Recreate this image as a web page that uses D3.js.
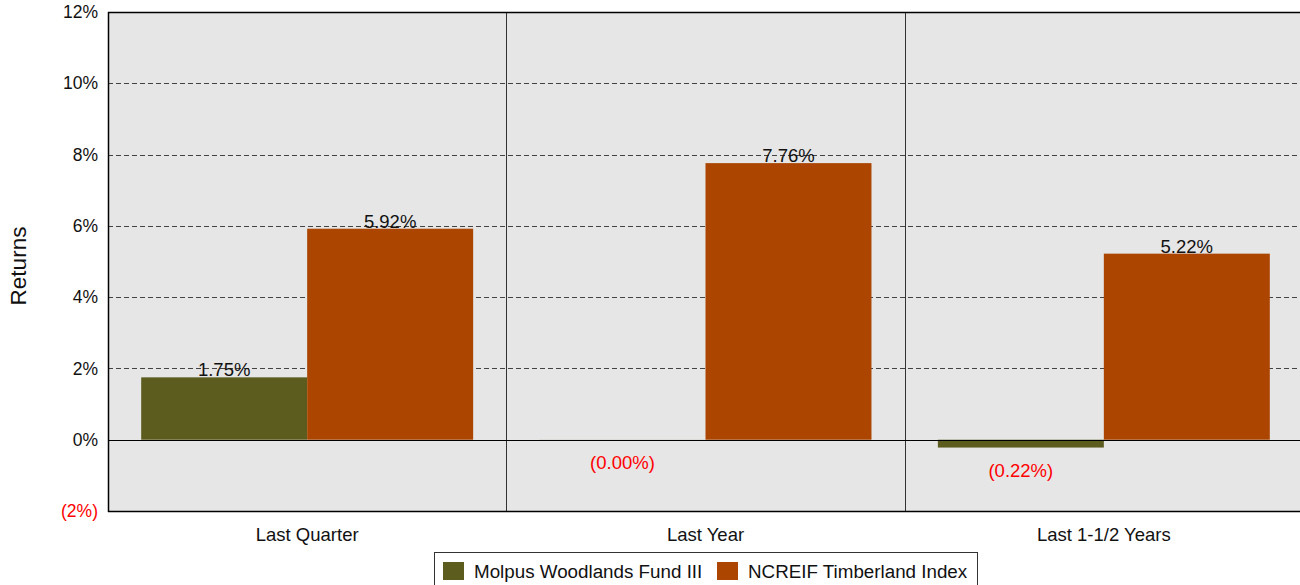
<!DOCTYPE html>
<html><head><meta charset="utf-8">
<script src="https://cdn.jsdelivr.net/npm/d3@7"></script>
<style>body{margin:0;background:#fff;} svg{display:block;font-family:Arial,"Liberation Sans",sans-serif;}</style>
</head><body>
<svg id="c" width="1300" height="585"></svg>
<script>
const categories = ["Last Quarter", "Last Year", "Last 1-1/2 Years"];
const seriesNames = ["Molpus Woodlands Fund III", "NCREIF Timberland Index"];
const molpusValues = [1.75, -0.002, -0.22];
const ncreifValues = [5.92, 7.76, 5.22];
const yTicks = [-2, 0, 2, 4, 6, 8, 10, 12];
const colors = ["#5c5c1f", "#ab4500"];

const svg = d3.select("#c");
const L = 108, R = 1303, T = 12, B = 511;
const y = d3.scaleLinear().domain([-2, 12]).range([B, T]);
const x0 = d3.scaleBand().domain(categories).range([L, R]).padding(0);
const x1 = d3.scaleBand().domain(seriesNames).range([0, x0.bandwidth()]).paddingInner(0).paddingOuter(0.2);
const color = d3.scaleOrdinal().domain(seriesNames).range(colors);
const fmt = v => v < 0 ? "(" + Math.abs(v).toFixed(2) + "%)" : v.toFixed(2) + "%";

svg.append("rect").attr("x", L).attr("y", T).attr("width", R - L).attr("height", B - T).attr("fill", "#e6e6e6");

// gridlines
svg.append("g").selectAll("line").data(yTicks.filter(t => t > 0 && t < 12)).join("line")
  .attr("x1", L).attr("x2", R).attr("y1", d => Math.round(y(d)) + 0.5).attr("y2", d => Math.round(y(d)) + 0.5)
  .attr("stroke", "#444").attr("stroke-dasharray", "5,3").attr("stroke-width", 1);

// category separators
svg.append("g").selectAll("line").data(categories.slice(1)).join("line")
  .attr("x1", d => Math.round(x0(d)) + 0.5).attr("x2", d => Math.round(x0(d)) + 0.5)
  .attr("y1", T).attr("y2", B).attr("stroke", "#333").attr("stroke-width", 1);

const data = categories.map((c, i) => ({cat: c, vals: [
  {s: seriesNames[0], v: molpusValues[i]}, {s: seriesNames[1], v: ncreifValues[i]}]}));

const groups = svg.append("g").selectAll("g").data(data).join("g")
  .attr("transform", d => `translate(${x0(d.cat)},0)`);
groups.selectAll("rect").data(d => d.vals).join("rect")
  .attr("x", d => x1(d.s)).attr("width", x1.bandwidth())
  .attr("y", d => y(Math.max(0, d.v))).attr("height", d => Math.abs(y(d.v) - y(0)))
  .attr("fill", d => color(d.s));

// zero line
svg.append("line").attr("x1", L).attr("x2", R).attr("y1", Math.round(y(0)) + 0.5).attr("y2", Math.round(y(0)) + 0.5)
  .attr("stroke", "#000").attr("stroke-width", 1.2);

// value labels
groups.selectAll("text").data(d => d.vals).join("text")
  .attr("x", d => x1(d.s) + x1.bandwidth() / 2)
  .attr("y", d => d.v >= 0 ? y(d.v) - 1 : y(d.v) + 29)
  .attr("text-anchor", "middle").attr("font-size", "18.5px")
  .attr("fill", d => d.v < 0 ? "#ff0000" : "#111")
  .text(d => fmt(d.v));

// axes frame
svg.append("line").attr("x1", L + 0.5).attr("x2", L + 0.5).attr("y1", T).attr("y2", B + 1).attr("stroke", "#000").attr("stroke-width", 1.5);
svg.append("line").attr("x1", L).attr("x2", R).attr("y1", T + 0.5).attr("y2", T + 0.5).attr("stroke", "#000").attr("stroke-width", 1.5);
svg.append("line").attr("x1", L).attr("x2", R).attr("y1", B + 0.5).attr("y2", B + 0.5).attr("stroke", "#000").attr("stroke-width", 1.5);

// y tick labels
const yAxis = d3.axisLeft(y).tickValues(yTicks).tickSize(0).tickPadding(10)
  .tickFormat(d => d < 0 ? "(" + Math.abs(d) + "%)" : d + "%");
const ga = svg.append("g").attr("transform", `translate(${L},0)`).call(yAxis);
ga.select(".domain").remove();
ga.selectAll("text").attr("font-size", "17.5px").attr("font-family", "Arial,'Liberation Sans',sans-serif")
  .attr("fill", d => d < 0 ? "#ff0000" : "#111");

// x category labels
const xAxis = d3.axisBottom(x0).tickSize(0).tickPadding(17);
const gx = svg.append("g").attr("transform", `translate(0,${B})`).call(xAxis);
gx.select(".domain").remove();
gx.selectAll("text").attr("font-size", "18.5px").attr("font-family", "Arial,'Liberation Sans',sans-serif").attr("fill", "#111");

// y title
svg.append("text").attr("transform", "translate(26,266) rotate(-90)").attr("text-anchor", "middle")
  .attr("font-size", "22.5px").attr("fill", "#111").text("Returns");

// legend
const lg = svg.append("g");
lg.append("rect").attr("x", 434.5).attr("y", 552.5).attr("width", 543).attr("height", 40)
  .attr("fill", "#fff").attr("stroke", "#333").attr("stroke-width", 1);
const items = [{n: seriesNames[0], x: 443}, {n: seriesNames[1], x: 717}];
items.forEach(it => {
  lg.append("rect").attr("x", it.x).attr("y", 562).attr("width", 21).attr("height", 18).attr("fill", color(it.n));
  lg.append("text").attr("x", it.x + 31).attr("y", 578).attr("font-size", "18.8px").attr("fill", "#111").text(it.n);
});
</script>
</body></html>
